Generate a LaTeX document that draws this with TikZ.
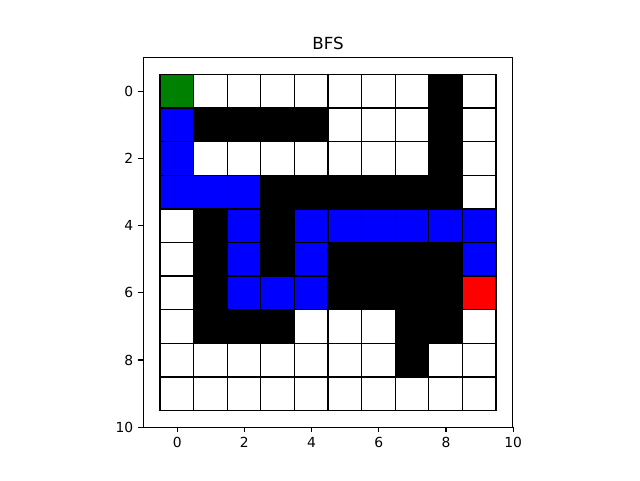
\documentclass[tikz,border=0pt]{standalone}
\usepackage{fontspec}
\setmainfont{DejaVu Sans}
\definecolor{cW}{RGB}{255,255,255}
\definecolor{cK}{RGB}{0,0,0}
\definecolor{cU}{RGB}{0,0,255}
\definecolor{cG}{RGB}{0,128,0}
\definecolor{cR}{RGB}{255,0,0}
\tikzset{
  cellbox/.style={draw=black, line width=1.04pt},
  spine/.style={draw=black, line width=0.83pt},
  tickmark/.style={draw=black, line width=0.83pt},
  ticklabel/.style={inner sep=0pt, font=\fontsize{10.4}{12}\selectfont},
  titletext/.style={inner sep=0pt, font=\fontsize{12.5}{15}\selectfont},
}
\begin{document}
\begin{tikzpicture}[x=0.75pt, y=-0.75pt]
\useasboundingbox[fill=white] (0,0) rectangle (640,480);
% axes frame
\draw[spine] (143.2,57.6) rectangle (512.8,427.2);
% cells
\foreach \row [count=\r from 0] in {
  {G,W,W,W,W,W,W,W,K,W},
  {U,K,K,K,K,W,W,W,K,W},
  {U,W,W,W,W,W,W,W,K,W},
  {U,U,U,K,K,K,K,K,K,W},
  {W,K,U,K,U,U,U,U,U,U},
  {W,K,U,K,U,K,K,K,K,U},
  {W,K,U,U,U,K,K,K,K,R},
  {W,K,K,K,W,W,W,K,K,W},
  {W,W,W,W,W,W,W,K,W,W},
  {W,W,W,W,W,W,W,W,W,W}} {
  \foreach \c [count=\cc from 0] in \row {
    \draw[cellbox, fill=c\c] ({160+33.6*\cc},{74.4+33.6*\r}) rectangle ({193.6+33.6*\cc},{108+33.6*\r});
  }
}
% x ticks
\foreach \v in {0,2,4,6,8,10} {
  \draw[tickmark] ({177.2+33.6*\v},427.2) -- ({177.2+33.6*\v},432.06);
  \node[ticklabel, anchor=north] (xl\v) at ({177.2+33.6*\v},436.9) {\v};
}
% y ticks
\foreach \v in {0,2,4,6,8,10} {
  \draw[tickmark] (143.2,{91.2+33.6*\v}) -- (138.34,{91.2+33.6*\v});
  \node[ticklabel, anchor=east] (yl\v) at (133.5,{91.2+33.6*\v}) {\v};
}
% title
\node[titletext, anchor=base] (title) at (328,49.3) {BFS};
\end{tikzpicture}
\end{document}
